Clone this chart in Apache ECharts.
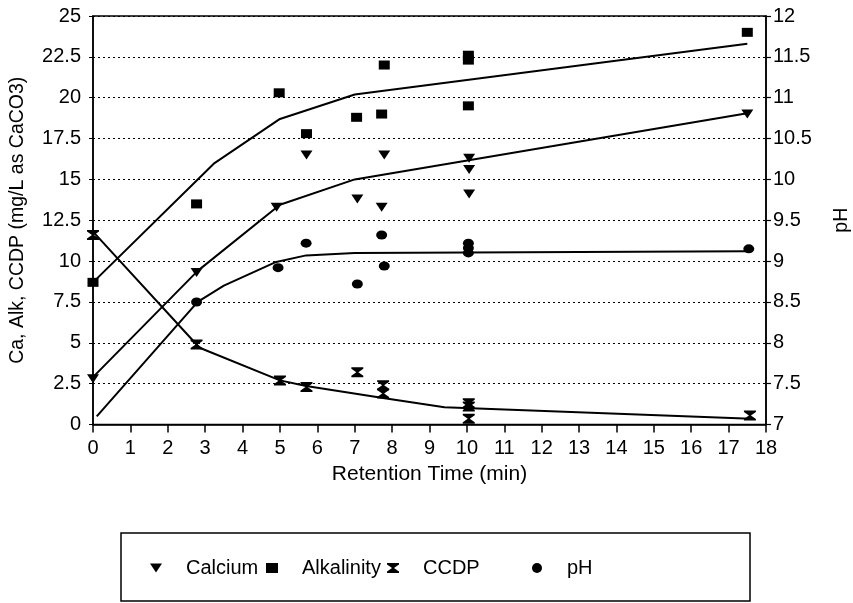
<!DOCTYPE html>
<html>
<head>
<meta charset="utf-8">
<script src="https://cdn.jsdelivr.net/npm/echarts@6/dist/echarts.min.js"></script>
<style>html,body{margin:0;padding:0;background:#fff;}#c{width:853px;height:603px;}</style>
</head>
<body>
<div id="c"></div>
<script>
// ---- data ----
const caX   = [0, 2.77, 4.91, 5.71, 7.07, 7.72, 7.79, 10.06, 10.06, 10.06, 17.5];
const caY   = [2.8, 9.3, 13.3, 16.5, 13.8, 13.3, 16.5, 16.3, 15.6, 14.1, 19.0];
const alkX  = [0, 2.77, 4.98, 5.71, 7.05, 7.72, 7.79, 10.04, 10.04, 10.04, 17.5];
const alkY  = [8.7, 13.5, 20.3, 17.8, 18.8, 19.0, 22.0, 22.3, 22.6, 19.5, 24.0];
const ccdpX = [0, 2.77, 5.0, 5.71, 7.07, 7.76, 7.76, 10.05, 10.05, 10.05, 17.57];
const ccdpY = [11.6, 4.9, 2.7, 2.3, 3.2, 2.4, 1.9, 1.3, 1.1, 0.35, 0.55];
const phX   = [2.77, 4.95, 5.7, 7.07, 7.72, 7.79, 10.04, 10.04, 10.04, 17.54];
const phY   = [8.5, 8.92, 9.22, 8.72, 9.32, 8.94, 9.22, 9.16, 9.1, 9.15];

// fitted model curves
const caFitX   = [0, 2.8, 5, 7, 17.5];
const caFitY   = [2.9, 9.4, 13.45, 15.0, 19.05];
const alkFitX  = [0, 3.25, 5, 7, 17.5];
const alkFitY  = [8.7, 16.0, 18.7, 20.2, 23.3];
const ccdpFitX = [0, 2.85, 5, 5.7, 7.8, 9.4, 17.6];
const ccdpFitY = [11.8, 4.7, 2.7, 2.35, 1.6, 1.05, 0.35];
const phFitX   = [0.1, 2.8, 3.5, 4.9, 5.7, 7, 17.5];
const phFitY   = [7.1, 8.5, 8.7, 8.99, 9.07, 9.1, 9.12];

const seriesNames = ['Calcium', 'Alkalinity', 'CCDP', 'pH'];
const xAxisName = 'Retention Time (min)';
const yLeftName = 'Ca, Alk, CCDP (mg/L as CaCO3)';
const yRightName = 'pH';

const zip = (a, b) => a.map((v, i) => [v, b[i]]);
const FONT = 'Arial, "Liberation Sans", sans-serif';

const SYM_TRI = 'path://M0,0 L12,0 L6,9 Z';
const SYM_HOUR = 'path://M0,0 L12,0 L12,1.5 L7,5 L12,8.5 L12,10 L0,10 L0,8.5 L5,5 L0,1.5 Z';

const chart = echarts.init(document.getElementById('c'), null, {renderer: 'canvas'});

function lineSeries(x, y, yi) {
  return {type: 'line', data: zip(x, y), yAxisIndex: yi, symbol: 'none', silent: true,
    lineStyle: {color: '#000', width: 2}, z: 2, animation: false};
}
function scatterSeries(name, x, y, yi, symbol, size) {
  return {type: 'scatter', name: name, data: zip(x, y), yAxisIndex: yi, symbol: symbol,
    symbolSize: size, itemStyle: {color: '#000', opacity: 1}, z: 3, animation: false};
}

const legendPos = [150, 266, 387, 532];
const legends = seriesNames.map((n, i) => ({
  data: [n], left: legendPos[i], top: 558, padding: 0, itemWidth: 12, itemHeight: 10,
  selectedMode: false,
  textStyle: {fontFamily: FONT, fontSize: 20, color: '#000', padding: [0, 0, 0, 19]}
}));

chart.setOption({
  backgroundColor: '#fff',
  animation: false,
  grid: {left: 93, right: 87, top: 16, bottom: 178.5, show: true, borderColor: '#000', borderWidth: 1.5,
    containLabel: false, outerBoundsMode: 'none'},
  legend: legends,
  graphic: [{type: 'rect', shape: {x: 121, y: 533, width: 629, height: 68},
    style: {fill: 'none', stroke: '#000', lineWidth: 1.5}, silent: true}],
  xAxis: {
    type: 'value', min: 0, max: 18, interval: 1,
    name: xAxisName, nameLocation: 'middle', nameGap: 36,
    nameTextStyle: {fontFamily: FONT, fontSize: 21, color: '#000'},
    axisLine: {lineStyle: {color: '#000', width: 1.5}},
    axisTick: {show: true, inside: false, length: 8, lineStyle: {color: '#000', width: 1.5}},
    axisLabel: {fontFamily: FONT, fontSize: 20, color: '#000', margin: 14},
    splitLine: {show: false}
  },
  yAxis: [{
    type: 'value', min: 0, max: 25, interval: 2.5, position: 'left',
    name: yLeftName, nameLocation: 'middle', nameGap: 65, nameRotate: 90,
    nameTextStyle: {fontFamily: FONT, fontSize: 19.5, color: '#000'},
    axisLine: {show: true, lineStyle: {color: '#000', width: 1.5}},
    axisTick: {show: true, length: 4, lineStyle: {color: '#000'}},
    axisLabel: {fontFamily: FONT, fontSize: 20, color: '#000', margin: 12},
    splitLine: {show: true, lineStyle: {color: '#000', type: [2, 3], width: 1.2}}
  }, {
    type: 'value', min: 7, max: 12, interval: 0.5, position: 'right',
    name: yRightName, nameLocation: 'middle', nameGap: 66, nameRotate: 90,
    nameTextStyle: {fontFamily: FONT, fontSize: 19.5, color: '#000'},
    axisLine: {show: true, lineStyle: {color: '#000', width: 1.5}},
    axisTick: {show: true, length: 5, lineStyle: {color: '#000', width: 1.2}},
    axisLabel: {fontFamily: FONT, fontSize: 20, color: '#000', margin: 7},
    splitLine: {show: false}
  }],
  series: [
    lineSeries(caFitX, caFitY, 0),
    lineSeries(alkFitX, alkFitY, 0),
    lineSeries(ccdpFitX, ccdpFitY, 0),
    lineSeries(phFitX, phFitY, 1),
    scatterSeries(seriesNames[0], caX, caY, 0, SYM_TRI, [12, 9]),
    scatterSeries(seriesNames[1], alkX, alkY, 0, 'rect', [11, 9]),
    scatterSeries(seriesNames[2], ccdpX, ccdpY, 0, SYM_HOUR, [12, 10]),
    scatterSeries(seriesNames[3], phX, phY, 1, 'circle', [11, 9])
  ]
});
</script>
</body>
</html>
